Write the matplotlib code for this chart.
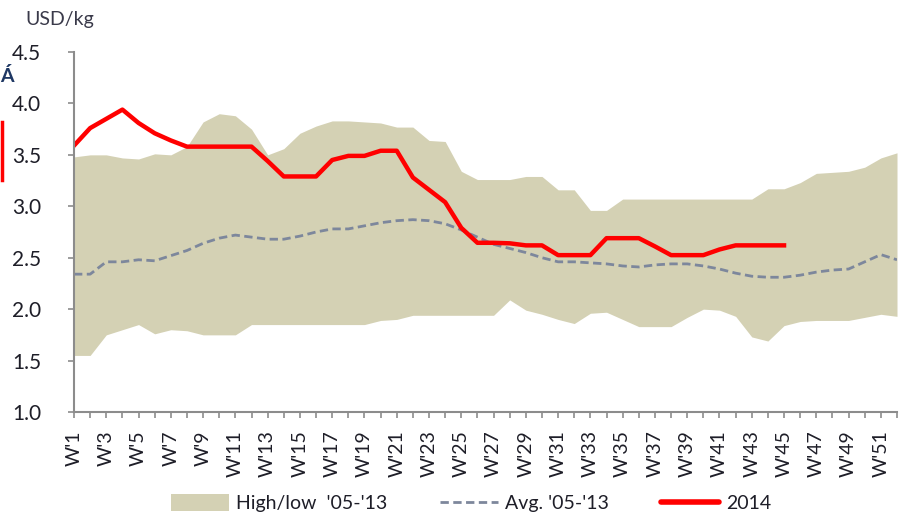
import matplotlib
matplotlib.use( "Agg" )
import matplotlib.pyplot as plt
from matplotlib.patches import Patch
from matplotlib.lines import Line2D

# --- end of imports --- #

weeks = list( range( 1, 53 ) )
week_labels = [ "W'" + str( w ) for w in weeks ]

high_05_13 = [ 3.48, 3.50, 3.50, 3.47, 3.46, 3.51, 3.50, 3.58, 3.82, 3.90,
				3.88, 3.75, 3.50, 3.56, 3.71, 3.78, 3.83, 3.83, 3.82, 3.81,
				3.77, 3.77, 3.64, 3.63, 3.34, 3.26, 3.26, 3.26, 3.29, 3.29,
				3.16, 3.16, 2.96, 2.96, 3.07, 3.07, 3.07, 3.07, 3.07, 3.07,
				3.07, 3.07, 3.07, 3.17, 3.17, 3.23, 3.32, 3.33, 3.34, 3.38,
				3.47, 3.52 ]

low_05_13 = [ 1.55, 1.55, 1.75, 1.80, 1.85, 1.76, 1.80, 1.79, 1.75, 1.75,
				1.75, 1.85, 1.85, 1.85, 1.85, 1.85, 1.85, 1.85, 1.85, 1.89,
				1.90, 1.94, 1.94, 1.94, 1.94, 1.94, 1.94, 2.09, 1.99, 1.95,
				1.90, 1.86, 1.96, 1.97, 1.90, 1.83, 1.83, 1.83, 1.92, 2.00,
				1.99, 1.93, 1.73, 1.69, 1.84, 1.88, 1.89, 1.89, 1.89, 1.92,
				1.95, 1.93 ]

avg_05_13 = [ 2.34, 2.34, 2.46, 2.46, 2.48, 2.47, 2.52, 2.57, 2.64, 2.69,
				2.72, 2.70, 2.68, 2.68, 2.71, 2.75, 2.78, 2.78, 2.81, 2.84,
				2.86, 2.87, 2.86, 2.83, 2.77, 2.70, 2.63, 2.59, 2.55, 2.50,
				2.46, 2.46, 2.45, 2.44, 2.42, 2.41, 2.43, 2.44, 2.44, 2.42,
				2.39, 2.35, 2.32, 2.31, 2.31, 2.33, 2.36, 2.38, 2.39, 2.46,
				2.53, 2.48 ]

price_2014 = [ 3.59, 3.76, 3.85, 3.94, 3.81, 3.71, 3.64, 3.58, 3.58, 3.58,
				3.58, 3.58, 3.44, 3.29, 3.29, 3.29, 3.45, 3.49, 3.49, 3.54,
				3.54, 3.28, 3.16, 3.04, 2.79, 2.645, 2.645, 2.64, 2.62, 2.62,
				2.525, 2.525, 2.525, 2.69, 2.69, 2.69, 2.61, 2.525, 2.525, 2.525,
				2.58, 2.62, 2.62, 2.62, 2.62 ]

band_color = "#D4D1B4"
avg_color = "#7D879C"
line_color = "#FF0000"
text_color = "#1E1E28"
axis_color = "#8C8C8C"
font = "Lato"


def price_plotter( output_file ):
	"""! @brief draw the weekly price chart """
	
	fig = plt.figure( figsize=(9.07, 5.26), dpi=100 )
	ax = fig.add_axes( [ 74/907, 1-412/526, (897-74)/907, (412-52)/526 ] )
	
	ax.fill_between( weeks, low_05_13, high_05_13, color=band_color, linewidth=0 )
	ax.plot( weeks, avg_05_13, color=avg_color, linewidth=2, linestyle=(0, (3, 1.6)) )
	ax.plot( weeks[ :len( price_2014 ) ], price_2014, color=line_color, linewidth=3.2, solid_joinstyle="round" )
	
	ax.set_xlim( 1, 52 )
	ax.set_ylim( 1.0, 4.5 )
	ax.set_yticks( [ 1.0, 1.5, 2.0, 2.5, 3.0, 3.5, 4.0, 4.5 ] )
	ax.set_yticklabels( [ "1.0", "1.5", "2.0", "2.5", "3.0", "3.5", "4.0", "4.5" ] )
	ax.set_xticks( weeks )
	ax.set_xticklabels( [ lab if idx % 2 == 0 else "" for idx, lab in enumerate( week_labels ) ], rotation=90 )
	
	for side in [ "top", "right" ]:
		ax.spines[ side ].set_visible( False )
	for side in [ "left", "bottom" ]:
		ax.spines[ side ].set_color( axis_color )
		ax.spines[ side ].set_linewidth( 1.5 )
	ax.tick_params( axis="y", direction="out", length=4.5, width=1.2, color=axis_color, pad=19, labelsize=15, labelcolor=text_color )
	ax.tick_params( axis="x", direction="out", length=4, width=1.2, color=axis_color, pad=9, labelsize=14, labelcolor=text_color )
	for lab in ax.get_yticklabels() + ax.get_xticklabels():
		lab.set_fontfamily( font )
	
	fig.text( 25/907, 1-20/526, "USD/kg", fontsize=14, color="#3A3A4A", family=font, va="center", ha="left" )
	
	# fragments of the slide around the chart
	fig.text( 0.5/907, 1-76/526, "Á", fontsize=14, fontweight="bold", color="#1F3864", family=font, va="center", ha="left" )
	fig.add_artist( Line2D( [ 1.5/907, 1.5/907 ], [ 1-122/526, 1-180/526 ], transform=fig.transFigure, color=line_color, linewidth=2.5 ) )
	
	handles = [ Patch( facecolor=band_color, edgecolor="none" ),
				Line2D( [], [], color=avg_color, linewidth=2, linestyle=(0, (3, 1.6)) ),
				Line2D( [], [], color=line_color, linewidth=4, solid_capstyle="round" ) ]
	labels = [ "High/low  '05-'13", "Avg. '05-'13", "2014" ]
	fig.legend( handles, labels, loc="center", bbox_to_anchor=( 471/907, 1-503/526 ), ncol=3, frameon=False,
				handlelength=3.0, handleheight=1.0, columnspacing=2.7, handletextpad=0.35,
				prop={ "family": font, "size": 14 }, labelcolor=text_color )
	
	fig.savefig( output_file, dpi=100 )


def main():
	"""! @brief run everything """
	
	price_plotter( "out.png" )


main()
